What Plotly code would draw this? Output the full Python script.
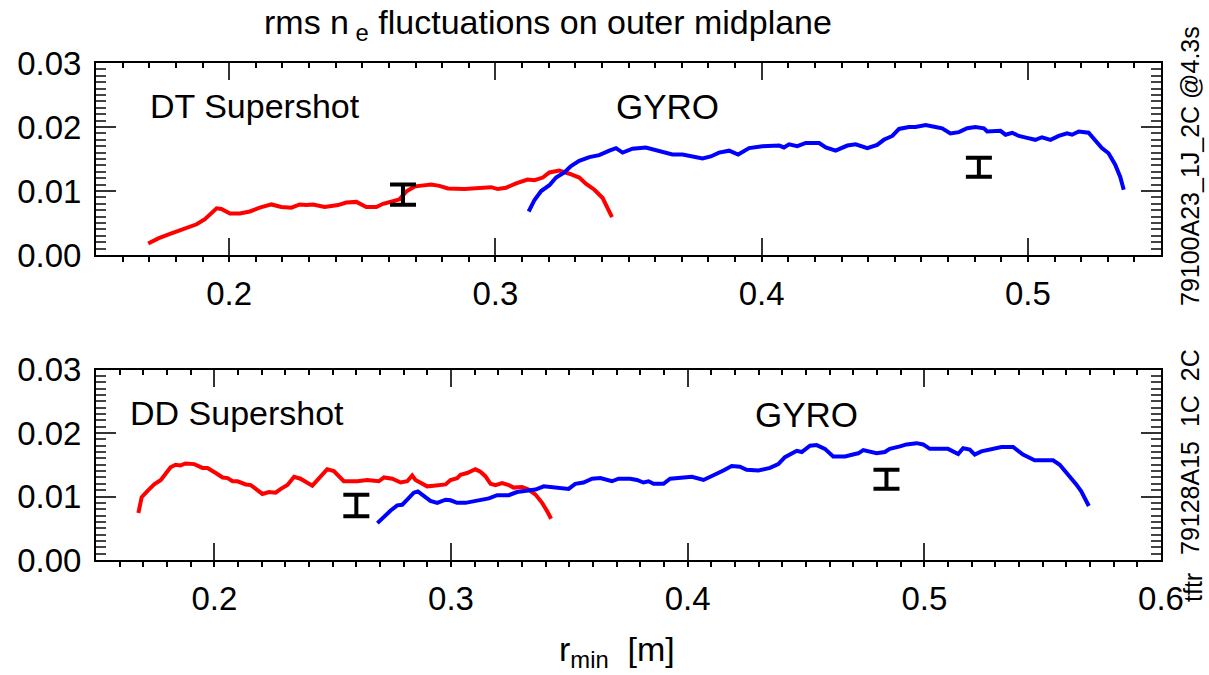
import plotly.graph_objects as go

# ---------------- data ----------------
dt_r = [0.1696, 0.1734, 0.1778, 0.1815, 0.1853, 0.1878, 0.1909, 0.1934, 0.1953, 0.1971,
        0.2003, 0.2040, 0.2078, 0.2115, 0.2159, 0.2196, 0.2234, 0.2265, 0.2290, 0.2315,
        0.2359, 0.2409, 0.2440, 0.2478, 0.2515, 0.2553, 0.2578, 0.2615, 0.2640, 0.2665,
        0.2697, 0.2715, 0.2759, 0.2790, 0.2822, 0.2884, 0.2947, 0.2984, 0.3009, 0.3040,
        0.3078, 0.3121, 0.3147, 0.3178, 0.3203, 0.3240, 0.3278, 0.3315, 0.3341, 0.3372,
        0.3403, 0.3438]
dt_n = [0.0018, 0.0026, 0.0033, 0.0038, 0.0043, 0.0048, 0.0056, 0.0066, 0.0073, 0.0072,
        0.0065, 0.0065, 0.0068, 0.0074, 0.0079, 0.0075, 0.0074, 0.0079, 0.0078, 0.0079,
        0.0075, 0.0078, 0.0082, 0.0083, 0.0075, 0.0075, 0.0080, 0.0084, 0.0087, 0.0099,
        0.0107, 0.0108, 0.0110, 0.0108, 0.0104, 0.0103, 0.0105, 0.0106, 0.0103, 0.0105,
        0.0112, 0.0118, 0.0117, 0.0121, 0.0129, 0.0132, 0.0127, 0.0121, 0.0111, 0.0102,
        0.0089, 0.0059]

gyro_top_r = [0.3125, 0.3147, 0.3172, 0.3203, 0.3228, 0.3259, 0.3284, 0.3315, 0.3353, 0.3390,
              0.3428, 0.3453, 0.3478, 0.3515, 0.3565, 0.3603, 0.3640, 0.3665, 0.3703, 0.3740,
              0.3778, 0.3809, 0.3840, 0.3878, 0.3912, 0.3953, 0.4003, 0.4066, 0.4084, 0.4103,
              0.4134, 0.4166, 0.4216, 0.4241, 0.4278, 0.4322, 0.4353, 0.4397, 0.4434, 0.4459,
              0.4491, 0.4516, 0.4553, 0.4578, 0.4616, 0.4653, 0.4678, 0.4709, 0.4741, 0.4772,
              0.4803, 0.4835, 0.4847, 0.4897, 0.4916, 0.4941, 0.4966, 0.4997, 0.5028, 0.5053,
              0.5085, 0.5116, 0.5147, 0.5166, 0.5191, 0.5228, 0.5253, 0.5278, 0.5303, 0.5328,
              0.5347, 0.5360]
gyro_top_n = [0.0068, 0.0086, 0.0100, 0.0109, 0.0121, 0.0129, 0.0139, 0.0147, 0.0153, 0.0156,
              0.0163, 0.0167, 0.0160, 0.0166, 0.0168, 0.0164, 0.0161, 0.0157, 0.0157, 0.0154,
              0.0151, 0.0154, 0.0160, 0.0163, 0.0157, 0.0167, 0.0170, 0.0171, 0.0168, 0.0173,
              0.0170, 0.0175, 0.0175, 0.0168, 0.0163, 0.0171, 0.0173, 0.0167, 0.0172, 0.0180,
              0.0186, 0.0197, 0.0200, 0.0200, 0.0203, 0.0200, 0.0198, 0.0190, 0.0192, 0.0198,
              0.0200, 0.0198, 0.0193, 0.0194, 0.0188, 0.0191, 0.0186, 0.0183, 0.0180, 0.0184,
              0.0180, 0.0186, 0.0190, 0.0188, 0.0193, 0.0191, 0.0180, 0.0167, 0.0159, 0.0141,
              0.0122, 0.0102]

dd_r = [0.1679, 0.1693, 0.1718, 0.1746, 0.1774, 0.1794, 0.1815, 0.1836, 0.1857, 0.1878,
        0.1915, 0.1950, 0.1971, 0.2006, 0.2035, 0.2056, 0.2077, 0.2098, 0.2133, 0.2154,
        0.2182, 0.2203, 0.2231, 0.2259, 0.2281, 0.2309, 0.2337, 0.2364, 0.2414, 0.2449,
        0.2477, 0.2505, 0.2547, 0.2604, 0.2646, 0.2695, 0.2717, 0.2752, 0.2787, 0.2815,
        0.2836, 0.2850, 0.2871, 0.2899, 0.2927, 0.2963, 0.2977, 0.2998, 0.3026, 0.3040,
        0.3068, 0.3103, 0.3124, 0.3145, 0.3167, 0.3188, 0.3216, 0.3244, 0.3265, 0.3300,
        0.3328, 0.3357, 0.3385, 0.3406, 0.3423]
dd_n = [0.0074, 0.0099, 0.0109, 0.0119, 0.0126, 0.0135, 0.0146, 0.0150, 0.0149, 0.0152,
        0.0151, 0.0145, 0.0145, 0.0137, 0.0130, 0.0129, 0.0124, 0.0124, 0.0119, 0.0118,
        0.0111, 0.0104, 0.0107, 0.0106, 0.0112, 0.0118, 0.0131, 0.0128, 0.0117, 0.0132,
        0.0143, 0.0140, 0.0124, 0.0124, 0.0126, 0.0124, 0.0130, 0.0128, 0.0122, 0.0124,
        0.0133, 0.0126, 0.0121, 0.0116, 0.0117, 0.0119, 0.0119, 0.0126, 0.0129, 0.0134,
        0.0137, 0.0143, 0.0139, 0.0132, 0.0120, 0.0118, 0.0121, 0.0118, 0.0114, 0.0115,
        0.0111, 0.0103, 0.0090, 0.0077, 0.0065]

gyro_bot_r = [0.2689, 0.2717, 0.2745, 0.2773, 0.2794, 0.2815, 0.2843, 0.2860, 0.2885, 0.2913,
              0.2942, 0.2977, 0.2998, 0.3026, 0.3061, 0.3096, 0.3124, 0.3160, 0.3195, 0.3244,
              0.3279, 0.3321, 0.3357, 0.3392, 0.3434, 0.3497, 0.3525, 0.3560, 0.3596, 0.3631,
              0.3680, 0.3708, 0.3757, 0.3786, 0.3813, 0.3835, 0.3856, 0.3898, 0.3926, 0.3982,
              0.4018, 0.4067, 0.4109, 0.4151, 0.4186, 0.4221, 0.4249, 0.4299, 0.4348, 0.4383,
              0.4411, 0.4440, 0.4461, 0.4482, 0.4517, 0.4545, 0.4580, 0.4615, 0.4665, 0.4707,
              0.4721, 0.4742, 0.4798, 0.4833, 0.4854, 0.4897, 0.4925, 0.4967, 0.4995, 0.5023,
              0.5051, 0.5100, 0.5143, 0.5164, 0.5192, 0.5213, 0.5241, 0.5290, 0.5326, 0.5375,
              0.5417, 0.5466, 0.5544, 0.5572, 0.5614, 0.5642, 0.5663, 0.5695]
gyro_bot_n = [0.0058, 0.0069, 0.0078, 0.0086, 0.0087, 0.0095, 0.0106, 0.0108, 0.0100, 0.0093,
              0.0090, 0.0095, 0.0094, 0.0090, 0.0090, 0.0092, 0.0095, 0.0097, 0.0102, 0.0102,
              0.0107, 0.0110, 0.0111, 0.0116, 0.0115, 0.0112, 0.0120, 0.0122, 0.0128, 0.0129,
              0.0124, 0.0128, 0.0128, 0.0126, 0.0122, 0.0124, 0.0120, 0.0120, 0.0128, 0.0129,
              0.0131, 0.0126, 0.0133, 0.0141, 0.0148, 0.0147, 0.0142, 0.0141, 0.0145, 0.0151,
              0.0162, 0.0167, 0.0172, 0.0170, 0.0180, 0.0181, 0.0175, 0.0163, 0.0163, 0.0167,
              0.0168, 0.0173, 0.0168, 0.0170, 0.0175, 0.0179, 0.0182, 0.0184, 0.0182, 0.0175,
              0.0175, 0.0175, 0.0167, 0.0176, 0.0174, 0.0166, 0.0171, 0.0175, 0.0178, 0.0178,
              0.0166, 0.0157, 0.0157, 0.0150, 0.0132, 0.0119, 0.0108, 0.0085]

# measured fluctuation levels with error bars
err_top_r = [0.2653, 0.4816]
err_top_n = [0.00944, 0.01372]
err_top_d = [0.00158, 0.00148]
err_bot_r = [0.2600, 0.4840]
err_bot_n = [0.00858, 0.01272]
err_bot_d = [0.00170, 0.00150]

x_ticks_fmt = ".1f"
y_ticks_fmt = ".2f"

# ---------------- figure ----------------
W, H = 1209, 675
ML, MR, MT, MB = 96, 48, 63, 115
FONT = "Liberation Sans, Arial, Helvetica, sans-serif"


def px(X):
    return (X - ML) / (W - ML - MR)


def py(Y):
    return (H - MB - Y) / (H - MT - MB)


RED = "#ff0000"
BLUE = "#0000ff"
LW = 4

fig = go.Figure()
fig.add_trace(go.Scatter(x=dt_r, y=dt_n, mode="lines", line=dict(color=RED, width=LW),
                         xaxis="x", yaxis="y", showlegend=False))
fig.add_trace(go.Scatter(x=gyro_top_r, y=gyro_top_n, mode="lines", line=dict(color=BLUE, width=LW),
                         xaxis="x", yaxis="y", showlegend=False))
fig.add_trace(go.Scatter(x=err_top_r, y=err_top_n, mode="markers",
                         marker=dict(size=1, color="rgba(0,0,0,0)"),
                         error_y=dict(type="data", array=err_top_d, visible=True, color="black",
                                      thickness=4, width=13),
                         xaxis="x", yaxis="y", showlegend=False))

fig.add_trace(go.Scatter(x=dd_r, y=dd_n, mode="lines", line=dict(color=RED, width=LW),
                         xaxis="x2", yaxis="y2", showlegend=False))
fig.add_trace(go.Scatter(x=gyro_bot_r, y=gyro_bot_n, mode="lines", line=dict(color=BLUE, width=LW),
                         xaxis="x2", yaxis="y2", showlegend=False))
fig.add_trace(go.Scatter(x=err_bot_r, y=err_bot_n, mode="markers",
                         marker=dict(size=1, color="rgba(0,0,0,0)"),
                         error_y=dict(type="data", array=err_bot_d, visible=True, color="black",
                                      thickness=4, width=13),
                         xaxis="x2", yaxis="y2", showlegend=False))

# empty traces to activate top (mirror) tick axes
fig.add_trace(go.Scatter(x=[], y=[], xaxis="x3", yaxis="y", showlegend=False, hoverinfo="skip"))
fig.add_trace(go.Scatter(x=[], y=[], xaxis="x4", yaxis="y2", showlegend=False, hoverinfo="skip"))

top_dom = [py(255), 1.0]
bot_dom = [0.0, py(369.5)]

xcommon = dict(showline=True, linecolor="black", linewidth=2, mirror=True,
               ticks="inside", ticklen=17, tickwidth=1.5, tickcolor="#333",
               dtick=0.1, tick0=0, tickformat=x_ticks_fmt,
               minor=dict(dtick=0.01, tick0=0, ticks="outside", ticklen=5, tickwidth=1.5,
                          tickcolor="black"),
               showgrid=False, zeroline=False,
               tickfont=dict(family=FONT, size=33, color="black"),
               ticklabelstandoff=8)
xtop = dict(showline=False, ticks="inside", ticklen=17, tickwidth=1.5, tickcolor="#333",
            dtick=0.1, tick0=0, showticklabels=False, side="top",
            minor=dict(dtick=0.01, tick0=0, ticks="inside", ticklen=5, tickwidth=1.5,
                       tickcolor="black"),
            showgrid=False, zeroline=False)
ycommon = dict(showline=True, linecolor="black", linewidth=2, mirror="ticks",
               ticks="inside", ticklen=20, tickwidth=1.5, tickcolor="#333",
               range=[0, 0.03], dtick=0.01, tick0=0, tickformat=y_ticks_fmt,
               minor=dict(dtick=0.001, tick0=0, ticks="inside", ticklen=10, tickwidth=1.5,
                          tickcolor="#444"),
               showgrid=False, zeroline=False,
               tickfont=dict(family=FONT, size=33, color="black"),
               ticklabelstandoff=6)

fig.update_layout(
    width=W, height=H,
    margin=dict(l=ML, r=MR, t=MT, b=MB),
    paper_bgcolor="white", plot_bgcolor="white",
    xaxis=dict(domain=[0, 1], anchor="y", range=[0.15, 0.55], **xcommon),
    yaxis=dict(domain=top_dom, anchor="x", **ycommon),
    xaxis2=dict(domain=[0, 1], anchor="y2", range=[0.15, 0.6], **xcommon),
    yaxis2=dict(domain=bot_dom, anchor="x2", **ycommon),
    xaxis3=dict(overlaying="x", matches="x", anchor="y", **xtop),
    xaxis4=dict(overlaying="x2", matches="x2", anchor="y2", **xtop),
    font=dict(family=FONT, color="black"),
)

ann = []


def text(s, X, Y, size=34, xanchor="center", angle=0):
    ann.append(dict(text=s, x=px(X), y=py(Y), xref="paper", yref="paper",
                    xanchor=xanchor, yanchor="middle", showarrow=False, textangle=angle,
                    font=dict(family=FONT, size=size, color="black")))


text("rms n<sub> e</sub> fluctuations on outer midplane", 548, 24, size=34)
text("DT Supershot", 148, 106, xanchor="left")
text("GYRO", 667, 106, size=35)
text("DD Supershot", 128, 413, xanchor="left")
text("GYRO", 806, 414, size=35)
text("r<sub>min</sub>  [m]", 617, 651)
text("79100A23_1J_2C @4.3s", 1190, 166, size=25, angle=-90)
text("79128A15  1C  2C", 1190, 452, size=25, angle=-90)
text("tftr", 1193, 588, size=25, angle=-90)
fig.update_layout(annotations=ann)

fig.write_html("out.html",
               config={"displayModeBar": False},
               post_script="document.body.style.margin='0px';document.body.style.overflow='hidden';")
